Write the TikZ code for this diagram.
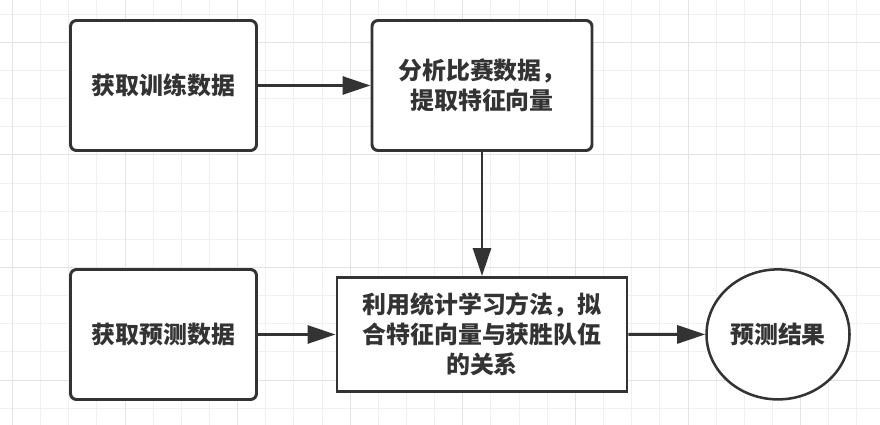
\documentclass[tikz,border=0pt]{standalone}
\usepackage{fontspec}
\newfontfamily\cjk{Noto Sans CJK SC}
\usepackage{tikz}
\usetikzlibrary{arrows.meta,shapes.geometric}

\definecolor{inkgray}{HTML}{333333}
\definecolor{gridlight}{HTML}{F0F0F0}
\definecolor{griddark}{HTML}{E3E3E3}

\begin{document}
\begin{tikzpicture}[
  >={Triangle[length=0.7cm,width=0.45cm]},
  boxtext/.style={font=\cjk\bfseries\fontsize{17}{21.3}\selectfont,text=inkgray,align=center},
  roundbox/.style={boxtext,draw=inkgray,line width=2.1pt,fill=white,rounded corners=0.15cm,
    minimum width=4.65cm,minimum height=3.25cm,inner sep=0pt},
  plainbox/.style={boxtext,draw=inkgray,line width=2.1pt,fill=white,
    minimum width=7.25cm,minimum height=2.85cm,inner sep=0pt},
  endcircle/.style={boxtext,ellipse,draw=inkgray,line width=1.8pt,fill=white,
    minimum width=3.575cm,minimum height=3.25cm,inner sep=0pt},
  flow/.style={->,draw=inkgray,line width=2.1pt},
  gridstyle/.style={gridlight,line width=0.7pt},
  gridmajor/.style={griddark,line width=0.7pt},
]

% ===================================================================
% Background and grid
% ===================================================================
\useasboundingbox (0,0) rectangle (22,-10.625);
\fill[white] (0,0) rectangle (22,-10.625);
\foreach \i in {0,...,30} { \draw[gridstyle] ({0.31+\i*0.70375},0) -- ++(0,-10.625); }
\foreach \j in {0,...,14}  { \draw[gridstyle] (0,{-0.3525-\j*0.70375}) -- ++(22,0); }
\foreach \i in {0,4,...,28} { \draw[gridmajor] ({0.31+\i*0.70375},0) -- ++(0,-10.625); }
\foreach \j in {1,5,9,13}   { \draw[gridmajor] (0,{-0.3525-\j*0.70375}) -- ++(22,0); }

% ===================================================================
% Steps
% ===================================================================
\node[roundbox] (train) at (4.0875,-2.1375) {获取训练数据};
\node[roundbox,minimum width=5.5cm] (feature) at (12.05,-2.1375) {分析比赛数据，\\提取特征向量};
\node[roundbox] (predict) at (4.0875,-8.3625) {获取预测数据};
\node[plainbox] (fit) at (12.05,-8.3625) {利用统计学习方法，拟\\合特征向量与获胜队伍\\的关系};
\node[endcircle] (result) at (19.45,-8.36) {预测结果};

% ===================================================================
% Connectors
% ===================================================================
\draw[flow] (train) -- (feature);
\draw[flow] (feature) -- (fit);
\draw[flow] (predict) -- (fit);
\draw[flow] (fit) -- (result);

\end{tikzpicture}
\end{document}
